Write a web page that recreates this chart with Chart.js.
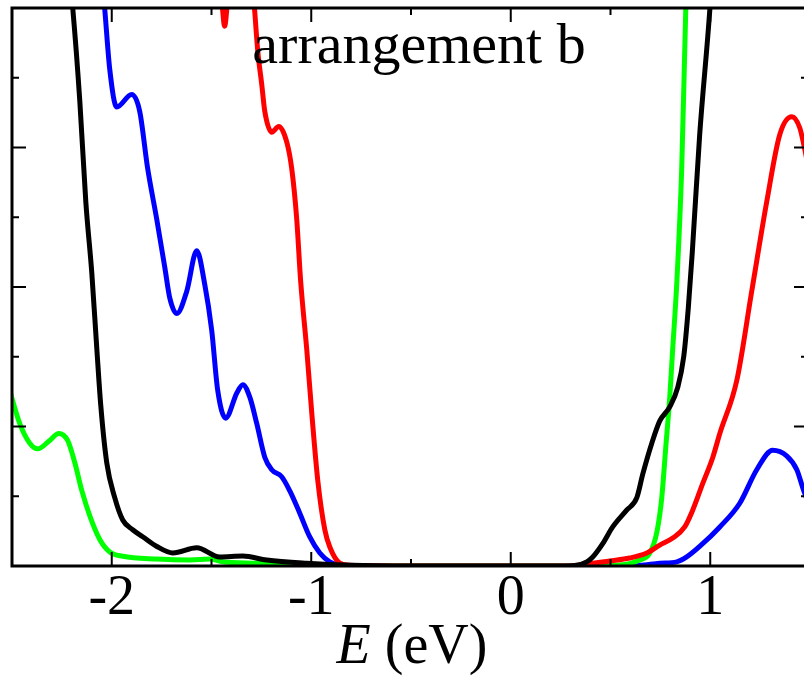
<!DOCTYPE html>
<html>
<head>
<meta charset="utf-8">
<script src="https://cdn.jsdelivr.net/npm/chart.js@4/dist/chart.umd.min.js"></script>
<style>
  html, body { margin: 0; padding: 0; overflow: hidden; background: #fff; }
  #wrap { width: 810px; height: 681px; }
</style>
</head>
<body>
<div id="wrap"><canvas id="grafica" width="810" height="681"></canvas></div>
<script>
// energias (eV) y densidades
let negroE = [-2.25, -2.21, -2.195, -2.16, -2.13, -2.10, -2.075, -2.055, -2.025, -1.985, -1.945, -1.895, -1.845, -1.774, -1.694, -1.574, -1.459, -1.343, -1.223, -1.023, -0.8, -0.5, 0.0, 0.25, 0.32, 0.381, 0.411, 0.461, 0.511, 0.581, 0.632, 0.662, 0.707, 0.747, 0.797, 0.837, 0.867, 0.89, 0.91, 0.947, 0.997, 1.01, 1.03];
let negroD = [5.0, 4.2, 3.99, 3.33, 2.61, 2.10, 1.56, 1.15, 0.74, 0.49, 0.33, 0.26, 0.21, 0.14, 0.093, 0.13, 0.064, 0.071, 0.043, 0.02, 0.005, 0.0, 0.0, 0.0, 0.003, 0.03, 0.064, 0.16, 0.28, 0.40, 0.49, 0.66, 0.88, 1.04, 1.14, 1.28, 1.50, 1.85, 2.25, 3.09, 3.97, 4.26, 5.0];

let rojoE = [-2.5, -1.6, -1.48, -1.448, -1.434, -1.42, -1.39, -1.34, -1.30, -1.283, -1.268, -1.248, -1.233, -1.198, -1.163, -1.123, -1.098, -1.073, -1.053, -1.023, -0.997, -0.967, -0.932, -0.907, -0.857, -0.807, -0.5, 0.0, 0.3, 0.346, 0.411, 0.496, 0.596, 0.682, 0.747, 0.812, 0.872, 0.912, 0.962, 1.013, 1.048, 1.133, 1.208, 1.283, 1.348, 1.409, 1.449, 1.469, 1.50];
let rojoD = [6.0, 6.0, 4.6, 4.05, 3.87, 4.05, 4.6, 4.8, 4.3, 3.97, 3.69, 3.45, 3.26, 3.11, 3.15, 3.04, 2.85, 2.49, 2.04, 1.56, 1.09, 0.61, 0.26, 0.136, 0.02, 0.005, 0.0, 0.0, 0.0, 0.005, 0.02, 0.036, 0.057, 0.093, 0.15, 0.20, 0.28, 0.40, 0.59, 0.78, 0.95, 1.33, 1.97, 2.61, 3.09, 3.22, 3.14, 3.02, 2.80];

let verdeE = [-2.52, -2.461, -2.411, -2.371, -2.311, -2.266, -2.221, -2.185, -2.15, -2.11, -2.06, -2.01, -1.945, -1.774, -1.609, -1.509, -1.444, -1.273, -1.108, -0.9, -0.5, 0.0, 0.3, 0.446, 0.546, 0.647, 0.697, 0.732, 0.757, 0.777, 0.797, 0.812, 0.832, 0.857, 0.877, 0.89];
let verdeD = [1.30, 1.02, 0.88, 0.84, 0.90, 0.95, 0.90, 0.74, 0.54, 0.36, 0.19, 0.10, 0.07, 0.05, 0.043, 0.05, 0.03, 0.02, 0.007, 0.0, 0.0, 0.0, 0.0, 0.003, 0.007, 0.043, 0.093, 0.24, 0.49, 0.85, 1.21, 1.56, 2.02, 2.85, 3.97, 4.6];

let azulE = [-2.06, -2.035, -2.01, -1.975, -1.90, -1.86, -1.82, -1.775, -1.734, -1.709, -1.674, -1.624, -1.574, -1.534, -1.499, -1.469, -1.429, -1.373, -1.343, -1.308, -1.273, -1.233, -1.198, -1.148, -1.108, -1.058, -1.008, -0.957, -0.907, -0.83, -0.5, 0.0, 0.5, 0.647, 0.747, 0.832, 0.882, 0.947, 1.048, 1.148, 1.233, 1.313, 1.383, 1.434, 1.464, 1.50];
let azulD = [4.4, 3.99, 3.56, 3.29, 3.38, 3.26, 2.85, 2.49, 2.14, 1.92, 1.81, 1.97, 2.26, 2.02, 1.69, 1.26, 1.06, 1.24, 1.30, 1.21, 1.02, 0.78, 0.69, 0.64, 0.54, 0.38, 0.21, 0.093, 0.03, 0.005, 0.0, 0.0, 0.0, 0.005, 0.02, 0.03, 0.065, 0.14, 0.28, 0.45, 0.69, 0.83, 0.79, 0.69, 0.56, 0.42];

let ticksMayoresX = [-2, -1, 0, 1];
let ticksMenoresX = [-1.5, -0.5, 0.5];
let ticksMayoresY = [1, 2, 3];
let ticksMenoresY = [0.5, 1.5, 2.5, 3.5];

let titulo = "arrangement b";
let etiquetaEje = ["E", " (eV)"];

const fuente = "'Liberation Serif', 'Times New Roman', serif";

function puntos(es, ds) {
    return es.map((e, i) => ({ x: e, y: ds[i] }));
}

function serie(es, ds, color) {
    return {
        data: puntos(es, ds),
        borderColor: color,
        borderWidth: 5,
        pointRadius: 0,
        fill: false,
        cubicInterpolationMode: "monotone",
        clip: 0
    };
}

const marco = {
    id: "marco",
    afterDraw(chart) {
        let ctx = chart.ctx;
        let a = chart.chartArea;
        let sx = chart.scales.x;
        let sy = chart.scales.y;
        ctx.save();
        ctx.strokeStyle = "#000";

        // ticks hacia adentro
        ctx.lineWidth = 2;
        ctx.beginPath();
        ticksMayoresX.forEach(v => {
            let px = sx.getPixelForValue(v);
            ctx.moveTo(px, a.bottom); ctx.lineTo(px, a.bottom - 14);
            ctx.moveTo(px, a.top); ctx.lineTo(px, a.top + 14);
        });
        ticksMenoresX.forEach(v => {
            let px = sx.getPixelForValue(v);
            ctx.moveTo(px, a.bottom); ctx.lineTo(px, a.bottom - 7);
            ctx.moveTo(px, a.top); ctx.lineTo(px, a.top + 7);
        });
        ticksMayoresY.forEach(v => {
            let py = sy.getPixelForValue(v);
            ctx.moveTo(a.left, py); ctx.lineTo(a.left + 14, py);
            ctx.moveTo(a.right, py); ctx.lineTo(a.right - 14, py);
        });
        ticksMenoresY.forEach(v => {
            let py = sy.getPixelForValue(v);
            ctx.moveTo(a.left, py); ctx.lineTo(a.left + 7, py);
            ctx.moveTo(a.right, py); ctx.lineTo(a.right - 7, py);
        });
        ctx.stroke();

        // marco
        ctx.lineWidth = 3;
        ctx.strokeRect(a.left, a.top, a.right - a.left, a.bottom - a.top);

        // titulo dentro del grafico
        ctx.fillStyle = "#000";
        ctx.font = "58px " + fuente;
        ctx.textAlign = "center";
        ctx.textBaseline = "alphabetic";
        ctx.fillText(titulo, 419, 63);

        // etiqueta del eje x con E en cursiva
        ctx.textAlign = "left";
        ctx.font = "italic 56px " + fuente;
        let w1 = ctx.measureText(etiquetaEje[0]).width;
        ctx.font = "56px " + fuente;
        let w2 = ctx.measureText(etiquetaEje[1]).width;
        let x0 = 412 - (w1 + w2) / 2;
        ctx.font = "italic 56px " + fuente;
        ctx.fillText(etiquetaEje[0], x0, 663);
        ctx.font = "56px " + fuente;
        ctx.fillText(etiquetaEje[1], x0 + w1, 663);
        ctx.restore();
    }
};

let ctx = document.getElementById("grafica").getContext("2d");
new Chart(ctx, {
    type: "line",
    data: {
        datasets: [
            serie(negroE, negroD, "#000000"),
            serie(rojoE, rojoD, "#ff0000"),
            serie(verdeE, verdeD, "#00ff00"),
            serie(azulE, azulD, "#0000ff")
        ]
    },
    options: {
        responsive: false,
        animation: false,
        layout: { padding: { left: 12, top: 8, right: 2, bottom: 0 } },
        plugins: { legend: { display: false }, tooltip: { enabled: false } },
        scales: {
            x: {
                type: "linear",
                min: -2.5,
                max: 1.49,
                grid: { display: false, drawTicks: false },
                border: { display: false },
                afterBuildTicks: s => { s.ticks = ticksMayoresX.map(v => ({ value: v })); },
                ticks: {
                    autoSkip: false,
                    maxRotation: 0,
                    padding: 0,
                    color: "#000",
                    font: { family: fuente, size: 56 },
                    callback: v => String(v)
                },
                afterFit: s => { s.height = 115; }
            },
            y: {
                display: false,
                min: 0,
                max: 4
            }
        }
    },
    plugins: [marco]
});
</script>
</body>
</html>
